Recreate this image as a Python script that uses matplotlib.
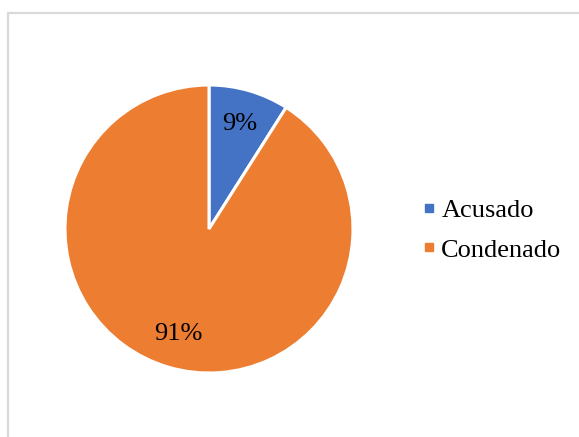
import matplotlib.pyplot as plt
from matplotlib.lines import Line2D
from matplotlib.patches import Rectangle

labels = ['Acusado', 'Condenado']
values = [9, 91]
colors = ['#4472C4', '#ED7D31']

plt.rcParams['font.family'] = ['Liberation Serif', 'DejaVu Serif']

fig = plt.figure(figsize=(5.79, 4.37), dpi=100)

# chart frame (cut off at right and bottom, like the source crop)
fig.patches.append(Rectangle((8 / 579, -0.1), 1.2, (437 - 13) / 437 + 0.1,
                             transform=fig.transFigure, fill=False,
                             edgecolor='#d9d9d9', linewidth=1.6))

ax = fig.add_axes([65 / 579, (437 - 373) / 437, 288 / 579, 288 / 437])
wedges, texts, autotexts = ax.pie(
    values, colors=colors, startangle=90, counterclock=False,
    autopct='%1.0f%%', pctdistance=0.76,
    wedgeprops=dict(edgecolor='white', linewidth=2.2),
    textprops=dict(fontsize=19, color='black'))
ax.set_xlim(-1, 1)
ax.set_ylim(-1, 1)
ax.set_aspect('equal')

handles = [Line2D([], [], linestyle='none', marker='s', markersize=5.5,
                  markerfacecolor=c, markeredgecolor=c) for c in colors]
fig.legend(handles, labels, loc='center left', bbox_to_anchor=(411 / 579, 1 - 230 / 437),
           frameon=False, fontsize=19, handlelength=0.4, handletextpad=0.25,
           labelspacing=0.62, borderpad=0)

fig.savefig('out.png', dpi=100)
